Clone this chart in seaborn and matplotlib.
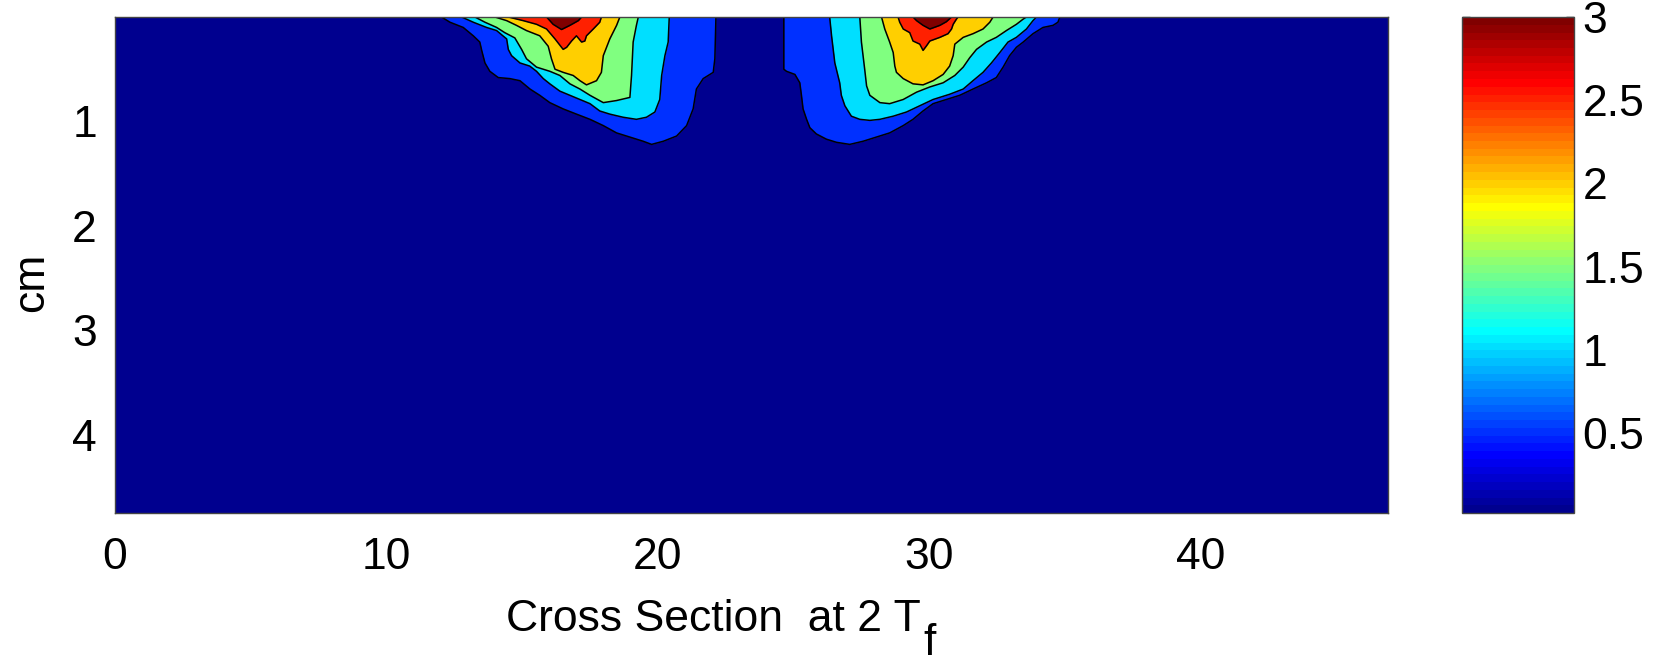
import numpy as np
import matplotlib
matplotlib.use("Agg")
import matplotlib.pyplot as plt
import seaborn as sns
from matplotlib.colors import Normalize, ListedColormap
from matplotlib.cm import ScalarMappable

# ---------------- data ----------------
x_extent = [0.0, 46.9]          # cross-section width (x units)
depth_extent = 4.75             # cm
base_value = 0.02               # background value
levels = [0.5, 1.0, 1.5, 2.0, 2.5, 3.0]
cbar_ticks = [0.5, 1.0, 1.5, 2.0, 2.5, 3.0]
cbar_labels = ["0.5", "1", "1.5", "2", "2.5", "3"]
x_ticks = [0, 10, 20, 30, 40]
y_ticks = [1, 2, 3, 4]
xlabel_main = "Cross Section  at 2 T"
xlabel_sub = "f"
ylabel_text = "cm"

# left lobe: contour depth (cm) vs position for each level
L05_x = [12.03, 12.34, 12.83, 13.20, 13.44, 13.51, 13.63, 13.81, 14.12, 14.55, 14.92, 15.29, 15.65, 16.02,
         16.51, 17.00, 17.50, 17.99, 18.48, 18.97, 19.46, 19.77, 20.20, 20.69, 21.06, 21.30, 21.42, 21.67,
         22.04, 22.10, 22.14]
L05_d = [0.0, 0.05, 0.10, 0.18, 0.24, 0.32, 0.44, 0.52, 0.58, 0.59, 0.61, 0.69, 0.75, 0.82,
         0.88, 0.93, 0.98, 1.04, 1.11, 1.15, 1.19, 1.22, 1.19, 1.14, 1.04, 0.88, 0.69, 0.59,
         0.53, 0.40, 0.0]
L10_x = [12.77, 13.20, 13.69, 14.06, 14.43, 14.49, 14.61, 14.92, 15.28, 15.53, 15.78, 16.02, 16.39, 16.76,
         17.13, 17.50, 17.86, 18.23, 18.72, 19.21, 19.58, 19.89, 20.07, 20.14, 20.26, 20.38, 20.42]
L10_d = [0.0, 0.05, 0.10, 0.13, 0.21, 0.31, 0.37, 0.44, 0.47, 0.52, 0.59, 0.64, 0.71, 0.75,
         0.79, 0.83, 0.90, 0.93, 0.96, 0.98, 0.96, 0.91, 0.79, 0.56, 0.37, 0.24, 0.0]
L15_x = [13.26, 13.63, 14.06, 14.36, 14.73, 14.98, 15.16, 15.53, 16.02, 16.39, 16.76, 17.13, 17.50, 17.99,
         18.48, 18.97, 19.03, 19.09, 19.21, 19.28]
L15_d = [0.0, 0.05, 0.10, 0.15, 0.20, 0.31, 0.40, 0.48, 0.52, 0.56, 0.64, 0.69, 0.75, 0.82,
         0.80, 0.77, 0.56, 0.24, 0.08, 0.0]
L20_x = [14.00, 14.43, 14.79, 15.16, 15.65, 15.96, 16.08, 16.21, 16.51, 16.88, 17.13, 17.37, 17.74, 17.92,
         17.99, 18.23, 18.48, 18.60]
L20_d = [0.0, 0.035, 0.08, 0.13, 0.18, 0.28, 0.40, 0.50, 0.53, 0.56, 0.61, 0.65, 0.61, 0.53,
         0.37, 0.21, 0.08, 0.0]
L25_x = [14.49, 15.04, 15.53, 15.90, 16.21, 16.51, 16.64, 16.82, 17.00, 17.19, 17.31, 17.37, 17.62, 17.86, 17.92]
L25_d = [0.0, 0.035, 0.07, 0.115, 0.21, 0.31, 0.29, 0.23, 0.18, 0.24, 0.23, 0.18, 0.115, 0.05, 0.0]
L30_x = [15.90, 16.14, 16.45, 16.76, 17.07, 17.19]
L30_d = [0.0, 0.07, 0.12, 0.08, 0.035, 0.0]

# right lobe
R05_x = [24.64, 24.64, 24.74, 25.05, 25.23, 25.29, 25.35, 25.48, 25.60, 25.84, 26.21, 26.58, 27.07, 27.56,
         28.05, 28.54, 29.04, 29.40, 29.77, 30.14, 30.63, 31.12, 31.61, 32.11, 32.47, 32.72, 32.96, 33.21,
         33.46, 33.82, 34.19, 34.56, 34.74, 34.81]
R05_d = [0.0, 0.50, 0.52, 0.55, 0.63, 0.75, 0.88, 0.98, 1.06, 1.12, 1.17, 1.20, 1.22, 1.19,
         1.15, 1.11, 1.04, 0.98, 0.90, 0.83, 0.79, 0.75, 0.69, 0.63, 0.58, 0.48, 0.37, 0.29,
         0.24, 0.16, 0.10, 0.08, 0.05, 0.0]
R10_x = [26.33, 26.40, 26.52, 26.70, 26.76, 26.89, 27.13, 27.44, 27.81, 28.18, 28.67, 29.16, 29.65, 30.14,
         30.75, 31.25, 31.61, 31.98, 32.29, 32.60, 32.90, 33.21, 33.58, 33.82, 33.95]
R10_d = [0.0, 0.18, 0.44, 0.63, 0.75, 0.85, 0.95, 0.98, 0.99, 0.98, 0.95, 0.91, 0.85, 0.79,
         0.74, 0.69, 0.61, 0.53, 0.44, 0.34, 0.24, 0.195, 0.115, 0.035, 0.0]
R15_x = [27.44, 27.50, 27.62, 27.69, 27.81, 28.18, 28.54, 29.04, 29.53, 30.02, 30.51, 30.94, 31.25, 31.49,
         31.74, 32.11, 32.47, 32.84, 33.21, 33.46, 33.58]
R15_d = [0.0, 0.24, 0.50, 0.66, 0.75, 0.82, 0.83, 0.79, 0.72, 0.67, 0.63, 0.56, 0.48, 0.39,
         0.31, 0.24, 0.195, 0.13, 0.07, 0.02, 0.0]
R20_x = [28.24, 28.36, 28.54, 28.67, 28.73, 28.79, 29.04, 29.40, 29.77, 30.14, 30.51, 30.75, 30.88, 30.94,
         31.25, 31.61, 31.98, 32.23, 32.35]
R20_d = [0.0, 0.115, 0.24, 0.34, 0.47, 0.53, 0.59, 0.64, 0.65, 0.61, 0.55, 0.47, 0.37, 0.26,
         0.195, 0.16, 0.115, 0.05, 0.0]
R25_x = [28.85, 28.91, 29.04, 29.28, 29.40, 29.65, 29.77, 29.90, 30.02, 30.39, 30.69, 30.82, 30.88, 31.00, 31.06]
R25_d = [0.0, 0.05, 0.115, 0.15, 0.23, 0.26, 0.32, 0.275, 0.23, 0.195, 0.16, 0.115, 0.07, 0.02, 0.0]
R30_x = [29.40, 29.53, 29.77, 30.02, 30.39, 30.63, 30.82]
R30_d = [0.0, 0.035, 0.08, 0.115, 0.08, 0.045, 0.0]


# ---------------- colormap: MATLAB-style jet(64) ----------------
def matlab_jet(n=64):
    m = int(np.ceil(n / 4))
    u = np.concatenate([np.arange(1, m + 1) / m, np.ones(m - 1), np.arange(m, 0, -1) / m])
    g = int(np.ceil(m / 2)) - (1 if n % 4 == 1 else 0) + np.arange(1, len(u) + 1)
    r = g + m
    b = g - m
    J = np.zeros((n, 3))
    for ch, idxs in enumerate([r, g, b]):
        for i, val in zip(idxs, u):
            if 1 <= i <= n:
                J[i - 1, ch] = val
    return ListedColormap(J)


# ---------------- styling ----------------
sns.set_style("white")
plt.rcParams["font.family"] = ["Liberation Sans", "DejaVu Sans"]
FS = 32
plt.rcParams["text.color"] = "black"
plt.rcParams["axes.labelcolor"] = "black"
plt.rcParams["xtick.color"] = "black"
plt.rcParams["ytick.color"] = "black"

cmap = matlab_jet(64)
norm = Normalize(vmin=base_value, vmax=3.0)

W, H = 1671, 663
fig = plt.figure(figsize=(W / 100, H / 100), dpi=100)
ax = fig.add_axes([115 / W, 1 - 513 / H, (1388 - 115) / W, (513 - 17) / H])
cax = fig.add_axes([1462 / W, 1 - 513 / H, (1574 - 1462) / W, (513 - 17) / H])

# background band (lowest level)
ax.fill_between(x_extent, 0, depth_extent, color=cmap(norm(base_value)), lw=0, zorder=1)

bands = {
    0.5: [(L05_x, L05_d), (R05_x, R05_d)],
    1.0: [(L10_x, L10_d), (R10_x, R10_d)],
    1.5: [(L15_x, L15_d), (R15_x, R15_d)],
    2.0: [(L20_x, L20_d), (R20_x, R20_d)],
    2.5: [(L25_x, L25_d), (R25_x, R25_d)],
    3.0: [(L30_x, L30_d), (R30_x, R30_d)],
}
z = 2
for lev in levels:
    for xs, ds in bands[lev]:
        ax.fill_between(xs, 0, ds, color=cmap(norm(lev)), lw=0, zorder=z)
    z += 1
for lev in levels:
    for xs, ds in bands[lev]:
        ax.plot(xs, ds, color="black", lw=1.1, zorder=20)

ax.set_xlim(x_extent)
ax.set_ylim(depth_extent, 0)
ax.set_xticks(x_ticks)
ax.set_yticks(y_ticks)
ax.tick_params(axis="both", length=0, labelsize=FS, labelcolor="black")
ax.tick_params(axis="x", pad=17)
ax.tick_params(axis="y", pad=13)
for s in ax.spines.values():
    s.set_visible(True)
    s.set_color("#444444")
    s.set_linewidth(1.0)
    s.set_zorder(30)

# x label: main part + lowered subscript
xl = ax.set_xlabel(xlabel_main, fontsize=FS, color="black")
ax.xaxis.set_label_coords((713 - 115) / 1273, -(631 - 513) / 496, transform=ax.transAxes)
xl.set_verticalalignment("baseline")
yl = ax.set_ylabel(ylabel_text, fontsize=FS, color="black")
ax.yaxis.set_label_coords(-(115 - 52) / 1273, (513 - 282) / 496)

sm = ScalarMappable(norm=norm, cmap=cmap)
cb = fig.colorbar(sm, cax=cax)
cb.set_ticks(cbar_ticks)
cb.set_ticklabels(cbar_labels)
cb.ax.tick_params(axis="y", which="both", direction="in", length=6, width=1,
                  left=True, right=True, labelsize=FS, pad=6, color="black", labelcolor="black")
cb.outline.set_edgecolor("#444444")
cb.outline.set_linewidth(1.0)

fig.canvas.draw()
bb = xl.get_window_extent()
fig.text((bb.x1 + 3) / W, (H - 655) / H, xlabel_sub, fontsize=FS, color="black",
         ha="left", va="baseline")

fig.savefig("out.png", dpi=100)
